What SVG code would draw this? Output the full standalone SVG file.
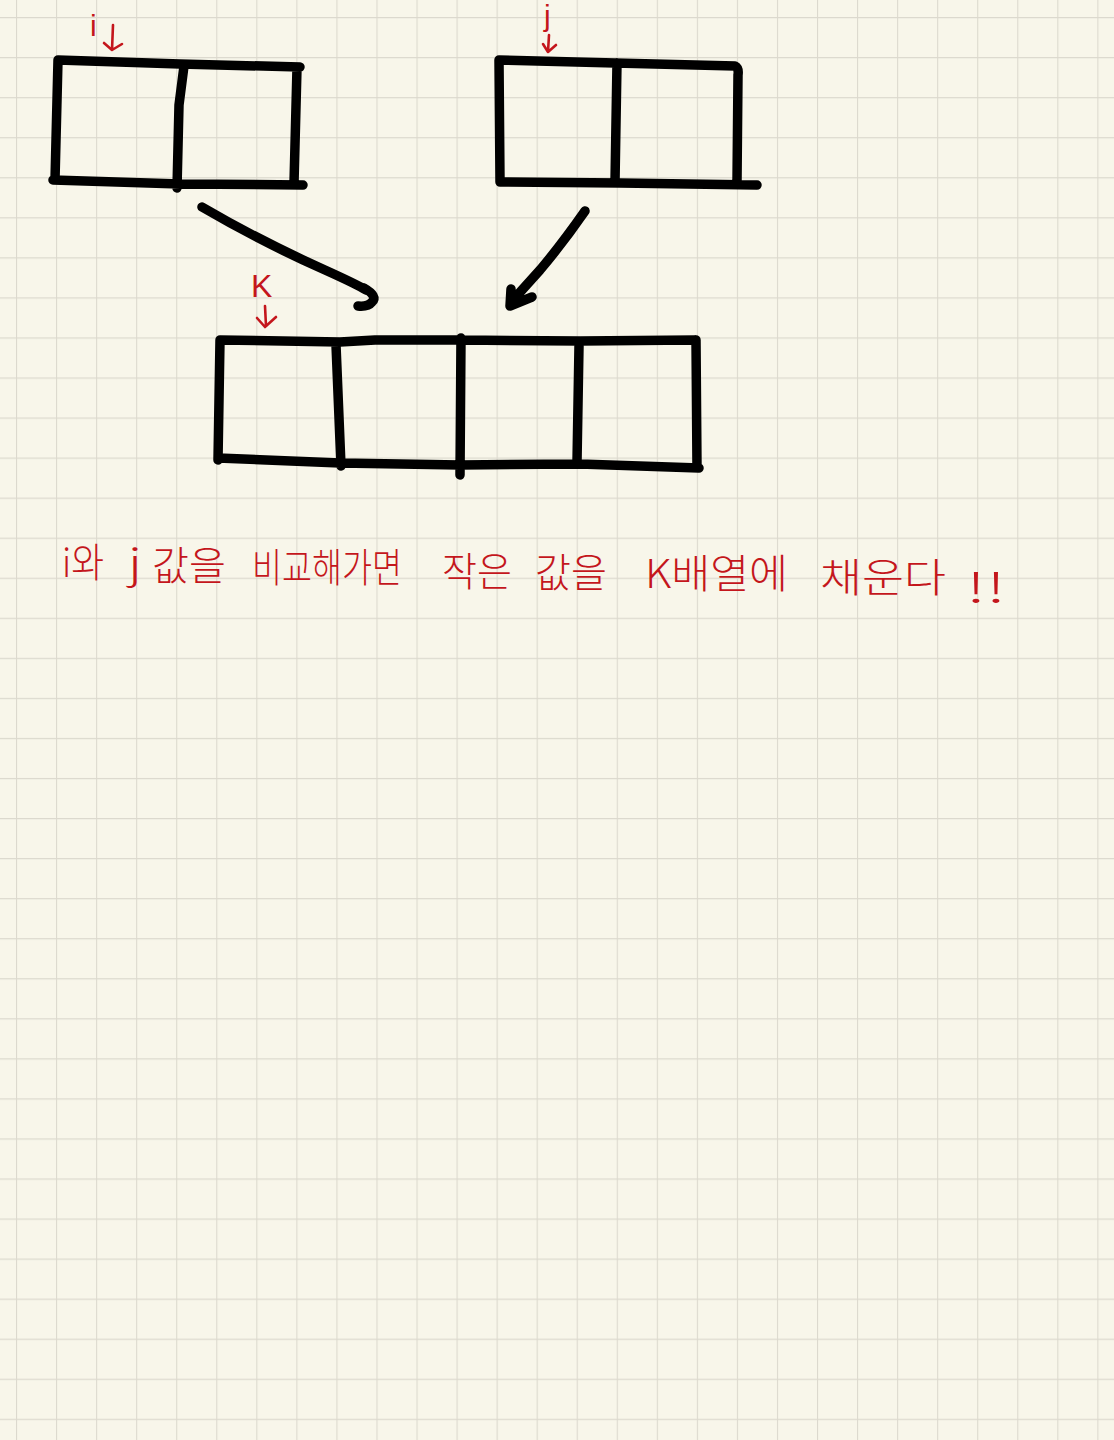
<svg xmlns="http://www.w3.org/2000/svg" width="1114" height="1440" viewBox="0 0 1114 1440">
<defs>
<pattern id="grid" x="16" y="17" width="40.05" height="40.05" patternUnits="userSpaceOnUse">
<path d="M0,0 V40.05 M0,0 H40.05" stroke="#dcd9ce" stroke-width="2.2" fill="none"/>
</pattern>
</defs>
<style>
.ink{fill:none;stroke:#000;stroke-width:9.5;stroke-linecap:round;stroke-linejoin:round}
.red{fill:none;stroke:#c4161c;stroke-width:2.6;stroke-linecap:round;stroke-linejoin:round}
.lbl{fill:#c4161c;font-family:"Liberation Sans","Noto Sans CJK KR",sans-serif}
.txt{fill:#c4161c;font-family:"Noto Sans CJK KR",sans-serif;font-size:40px;font-weight:300}
</style>
<rect width="1114" height="1440" fill="#f8f6ea"/>
<rect width="1114" height="1440" fill="url(#grid)"/>

<g id="array-left">
<path class="ink" d="M58,60 L180,64 L300,67 M58,60 L55,180 M53,180 L180,184 L303,185 M297,68 L294,183 M184,66 L179,105 L177,188"/>
</g>
<g id="array-right">
<path class="ink" d="M499,60 L615,63 L735,66 Q739,68 738,75 L737,182 M499,60 L500,182 M500,182 L620,183 L757,185 M617,63 L615,182"/>
</g>
<g id="array-k">
<path class="ink" d="M220,340 L340,342 L375,340 L460,340 L580,341 L695,340 M220,340 L218,460 M218,458 L340,463 L460,465 L580,464 L699,468 M696,340 L697,468 M336,345 L341,466 M461,338 L460,475 M579,346 L577,462"/>
</g>

<g id="label-i">
<text class="lbl" x="90" y="36" font-size="30">i</text>
<path class="red" d="M113,25 L112,50 M104,43 L112,50 L122,44"/>
</g>
<g id="label-j">
<text class="lbl" x="544" y="26" font-size="30">j</text>
<path class="red" d="M549,35 L548,52 M543,44 L548,52 L556,45"/>
</g>
<g id="label-k">
<text class="lbl" x="251" y="297" font-size="32">K</text>
<path class="red" d="M265,306 L266,326 M257,318 L265,327 L276,317"/>
</g>

<g id="connectors">
<path class="ink" d="M202,207 Q262,242 325,270 Q356,284 366,290"/>
<path class="ink" stroke-width="11" d="M364,288 Q378,296 372,302 Q368,307 358,306"/>
<path class="ink" d="M585,211 Q562,244 540,270 L513,300 M511,289 L510,306 L532,297"/>
</g>

<g id="caption">
<text class="txt" x="62" y="577" textLength="42" lengthAdjust="spacingAndGlyphs">i와</text>
<text class="txt" x="128" y="577" textLength="14" lengthAdjust="spacingAndGlyphs">j</text>
<text class="txt" x="152" y="580" textLength="74" lengthAdjust="spacingAndGlyphs">값을</text>
<text class="txt" x="252" y="582" textLength="150" lengthAdjust="spacingAndGlyphs">비교해가면</text>
<text class="txt" x="442" y="586" textLength="70" lengthAdjust="spacingAndGlyphs">작은</text>
<text class="txt" x="535" y="587" textLength="72" lengthAdjust="spacingAndGlyphs">값을</text>
<text class="txt" x="645" y="588" textLength="143" lengthAdjust="spacingAndGlyphs">K배열에</text>
<text class="txt" x="820" y="592" textLength="126" lengthAdjust="spacingAndGlyphs">채운다</text>
<text class="txt" x="966" y="602" textLength="40" lengthAdjust="spacingAndGlyphs">!!</text>
</g>
</svg>
